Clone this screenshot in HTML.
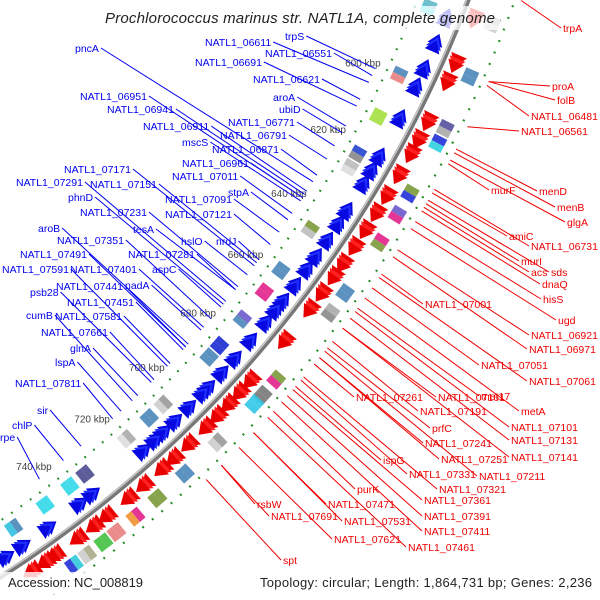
<!DOCTYPE html>
<html><head><meta charset="utf-8"><style>
html,body{margin:0;padding:0;background:#fff;width:600px;height:600px;overflow:hidden;}
svg{display:block;font-family:"Liberation Sans",sans-serif;}
</style></head>
<body>
<svg id="map" width="600" height="600" viewBox="0 0 600 600">
<g id="features"></g>
<g id="labels"></g>
<rect x="100" y="6" width="400" height="24" fill="#fff" opacity="0.75"/>
<text x="300" y="23" text-anchor="middle" font-size="15" font-style="italic" fill="#222" textLength="390">Prochlorococcus marinus str. NATL1A, complete genome</text>
<rect x="0" y="572" width="600" height="28" fill="#fff" opacity="0.8"/>
<text x="8" y="587" font-size="13" fill="#222" textLength="135">Accession: NC_008819</text>
<text x="260" y="587" font-size="13" fill="#222" textLength="332">Topology: circular; Length: 1,864,731 bp; Genes: 2,236</text>
</svg>
<script>
// ---- data ----
const revArrows = [578,585,592,597,606,617,621,625,633,637,642,647,651,656,661,664,668,674,680,685,690,692,697,702,706,709,713,730,734,744,752,757,761];
const fwdArrows = [576,588,593,604,609,613,619,625,630,635,640,645,649,654,659,669,682,686,690,694,698,704,709,713,719,724,731,735,740,747,750,754];
const revBoxes = [578,597,609,620,624,643,656,663,672,681,685,702,707,715,729,734,742,752];
const revBoxColors = ["#5fb8c8","#4a86b8","#a4e040","#2244cc","#bbbbbb","#7a9a3a","#4a86b8","#e0208a","#6a5acd","#1a2ad0","#4a86b8","#999999","#4a86b8","#aaaaaa","#4a4a90","#30d8e8","#30d8e8","#4a86b8"];
const revBoxColors2 = ["#30e0e8","#e88080","#a4e040","#888888","#dddddd","#bbbbbb","#4a86b8","#e0208a","#4a86b8","#1a2ad0","#4a86b8","#cccccc","#4a86b8","#dddddd","#4a4a90","#30d8e8","#30d8e8","#30c0e0"];
const fwdBoxes = [576,590,604,608,622,628,636,651,657,678,683,686,699,710,719,726,732,736,741,745];
const fwdBoxColors = ["#aaaaaa","#4a86b8","#55509a","#2030d8","#7a9a3a","#6a5acd","#e0208a","#4a86b8","#aaaaaa","#7a9a3a","#777777","#30c8e8","#999999","#4a86b8","#7a9a3a","#e0208a","#e88080","#40c040","#aaaa88","#30c8d8"];
const fwdBoxColors2 = ["#cccccc","#4a86b8","#aaaaaa","#30d0e0","#2030d8","#e0208a","#7a9a3a","#4a86b8","#888888","#e0208a","#777777","#30c8e8","#cccccc","#4a86b8","#7a9a3a","#f09030","#e88080","#40c040","#cccccc","#2030d8"];
const tickLabels = [600,620,640,660,680,700,720,740];
const blueNames = ["NATL1_06611","trpS","NATL1_06551","NATL1_06691","NATL1_06621","pncA","aroA","ubiD","NATL1_06951","NATL1_06941","NATL1_06771","NATL1_06911","NATL1_06791","mscS","NATL1_06871","NATL1_06961","NATL1_07011","NATL1_07171","NATL1_07291","NATL1_07151","phnD","NATL1_07091","stpA","NATL1_07121","NATL1_07231","tesA","aroB","NATL1_07351","hslO","nrdJ","NATL1_07281","NATL1_07491","aspC","NATL1_07401","NATL1_07591","nadA","NATL1_07441","psb28","NATL1_07451","cumB","NATL1_07581","NATL1_07661","glnA","lspA","NATL1_07811","sir","chlP","rpe"];
const blueKbp = [604,600,602,611,609,634,617,619,639,638,623,637,627,640,632,639,644,661,673,660,674,650,646,654,668,669,688,679,664,659,669,689,675,682,696,683,689,702,690,709,695,701,707,713,716,727,733,741];
const redNames = ["trpA","proA","folB","NATL1_06481","NATL1_06561","murF","menD","menB","glgA","amiC","NATL1_06731","murI","acs","sds","dnaQ","hisS","NATL1_07001","ugd","NATL1_06921","NATL1_06971","NATL1_07051","NATL1_07061","met17","NATL1_07261","NATL1_07161","NATL1_07191","metA","NATL1_07101","NATL1_07131","prfC","NATL1_07241","NATL1_07141","NATL1_07251","ispG","NATL1_07211","NATL1_07331","NATL1_07321","purK","NATL1_07361","NATL1_07471","NATL1_07391","NATL1_07531","NATL1_07411","rsbW","NATL1_07691","NATL1_07621","NATL1_07461","spt"];
const redKbp = [570,591,591,592,603,613,609,610,612,621,620,624,625,623,626,629,644,631,637,639,648,645,654,671,660,664,651,655,657,666,669,660,669,678,667,676,675,686,679,693,681,693,683,704,704,698,688,709];
// ---- layout (label text positions) ----
const blueLX=[205,285,265,195,253,75,273,279,80,107,228,143,220,182,212,182,172,64,16,90,68,165,228,165,80,133,38,57,181,216,128,20,152,70,2,125,56,30,67,26,55,41,70,55,15,37,12,0];
const blueLY=[42,36,53,62,79,48,97,109,96,109,122,126,135,142,149,163,176,169,182,184,197,199,192,214,212,229,228,240,241,241,254,254,269,269,269,285,286,292,302,315,316,332,348,362,383,410,425,437];
const redLX=[563,552,557,531,521,491,539,557,567,509,531,521,531,551,542,543,425,558,531,529,481,529,481,356,438,420,521,511,511,432,425,511,441,383,479,409,439,357,424,328,424,344,424,257,271,334,408,283];
const redLY=[28,86,100,116,131,190,191,207,222,236,246,261,272,272,284,299,304,320,335,349,365,381,396,397,397,411,411,427,440,428,443,457,459,460,476,474,489,489,500,504,516,521,531,504,516,539,547,560];

const NS="http://www.w3.org/2000/svg";
const CX=-640, CY=-420, R=1185;
function ang(k){return (25.7+(k-600)*0.1931)*Math.PI/180;}
function pt(r,k){const a=ang(k);return [CX+r*Math.cos(a),CY+r*Math.sin(a)];}
const F=document.getElementById('features'), L=document.getElementById('labels');
function mk(tag,attrs,parent){const e=document.createElementNS(NS,tag);for(const k in attrs)e.setAttribute(k,attrs[k]);parent.appendChild(e);return e;}
function arcPath(r,k1,k2){const a=pt(r,k1),b=pt(r,k2);return `M${a[0]},${a[1]} A${r},${r} 0 0 1 ${b[0]},${b[1]}`;}

// backbone
let bb=mk('path',{d:arcPath(R,560,780),fill:'none',stroke:'#777','stroke-width':5},F);


let bb2=mk('path',{d:arcPath(R-1.5,560,780),fill:'none',stroke:'#c8c8c8','stroke-width':1.5},F);



// green tick dots
for(const side of [[R-47,'blue'],[R+44,'red']]){
  for(let k=560;k<=770;k+=3){
    const major=(k%15===0);
    const w=major?1.8:0.45;
    const d=mk('path',{d:arcPath(side[0],k-w/2,k+w/2),fill:'none',stroke:'#1f8a1f','stroke-width':2.2},F);
    
    
  }
}
// tick labels
tickLabels.forEach(k=>{const p=pt(R-72,k);
  const t=mk('text',{x:p[0],y:p[1]+4,'text-anchor':'middle','font-size':10,fill:'#444'},F);
  t.textContent=k+' kbp';
  
  });

function arrow(k,len,r1,r2,dir,color,name){
  const rm=(r1+r2)/2;let pts;
  if(dir>0){const a=pt(r1,k),b=pt(r2,k),c=pt(rm,k+len);pts=[a,c,b];}
  else{const a=pt(r1,k+len),b=pt(r2,k+len),c=pt(rm,k);pts=[a,c,b];}
  const e=mk('polygon',{points:pts.map(p=>p.join(',')).join(' '),fill:color},F);
  
  
}
revArrows.forEach(k=>{[0,0.9,1.8].forEach((o,j)=>arrow(k+o,3,R-22,R-6,-1,j%2?'#2030ff':'#0808e0','reverse-gene-arrow'));});
fwdArrows.forEach(k=>{[0,0.9,1.8].forEach((o,j)=>arrow(k+o,3,R+4,R+21,1,j%2?'#ff2020':'#e80000','forward-gene-arrow'));});

function box(k,r1,r2,c1,c2,name){
  const a=pt(r1,k),b=pt(r2,k),c=pt(r2,k+1.8),d=pt(r1,k+1.8),e2=pt(r2,k+3.6),f=pt(r1,k+3.6);
  const e=mk('polygon',{points:[a,b,c,d].map(p=>p.join(',')).join(' '),fill:c1,opacity:0.9},F);
  
  
  const g=mk('polygon',{points:[d,c,e2,f].map(p=>p.join(',')).join(' '),fill:c2,opacity:0.9},F);
  
  
}
revBoxes.forEach((k,i)=>box(k,R-41,R-27,revBoxColors[i],revBoxColors2[i],'reverse-cog-box'));
fwdBoxes.forEach((k,i)=>box(k,R+24,R+38,fwdBoxColors[i],fwdBoxColors2[i],'forward-cog-box'));

// labels
blueNames.forEach((n,i)=>{
  const t=mk('text',{x:blueLX[i],y:blueLY[i]+4,'font-size':10.5,fill:'#0000ee'},L);
  t.textContent=n;
  
  
  const w=t.getComputedTextLength();
  const p=pt(R-58,blueKbp[i]);
  const l=mk('line',{x1:blueLX[i]+w+2,y1:blueLY[i],x2:p[0],y2:p[1],stroke:'#0000ee','stroke-width':1},L);
  
  
});
redNames.forEach((n,i)=>{
  const t=mk('text',{x:redLX[i],y:redLY[i]+4,'font-size':10.5,fill:'#ee0000'},L);
  t.textContent=n;
  
  
  const p=pt(R+50,redKbp[i]);
  const l=mk('line',{x1:redLX[i]-2,y1:redLY[i],x2:p[0],y2:p[1],stroke:'#ee0000','stroke-width':1},L);
  
  
});
</script>
</body></html>
